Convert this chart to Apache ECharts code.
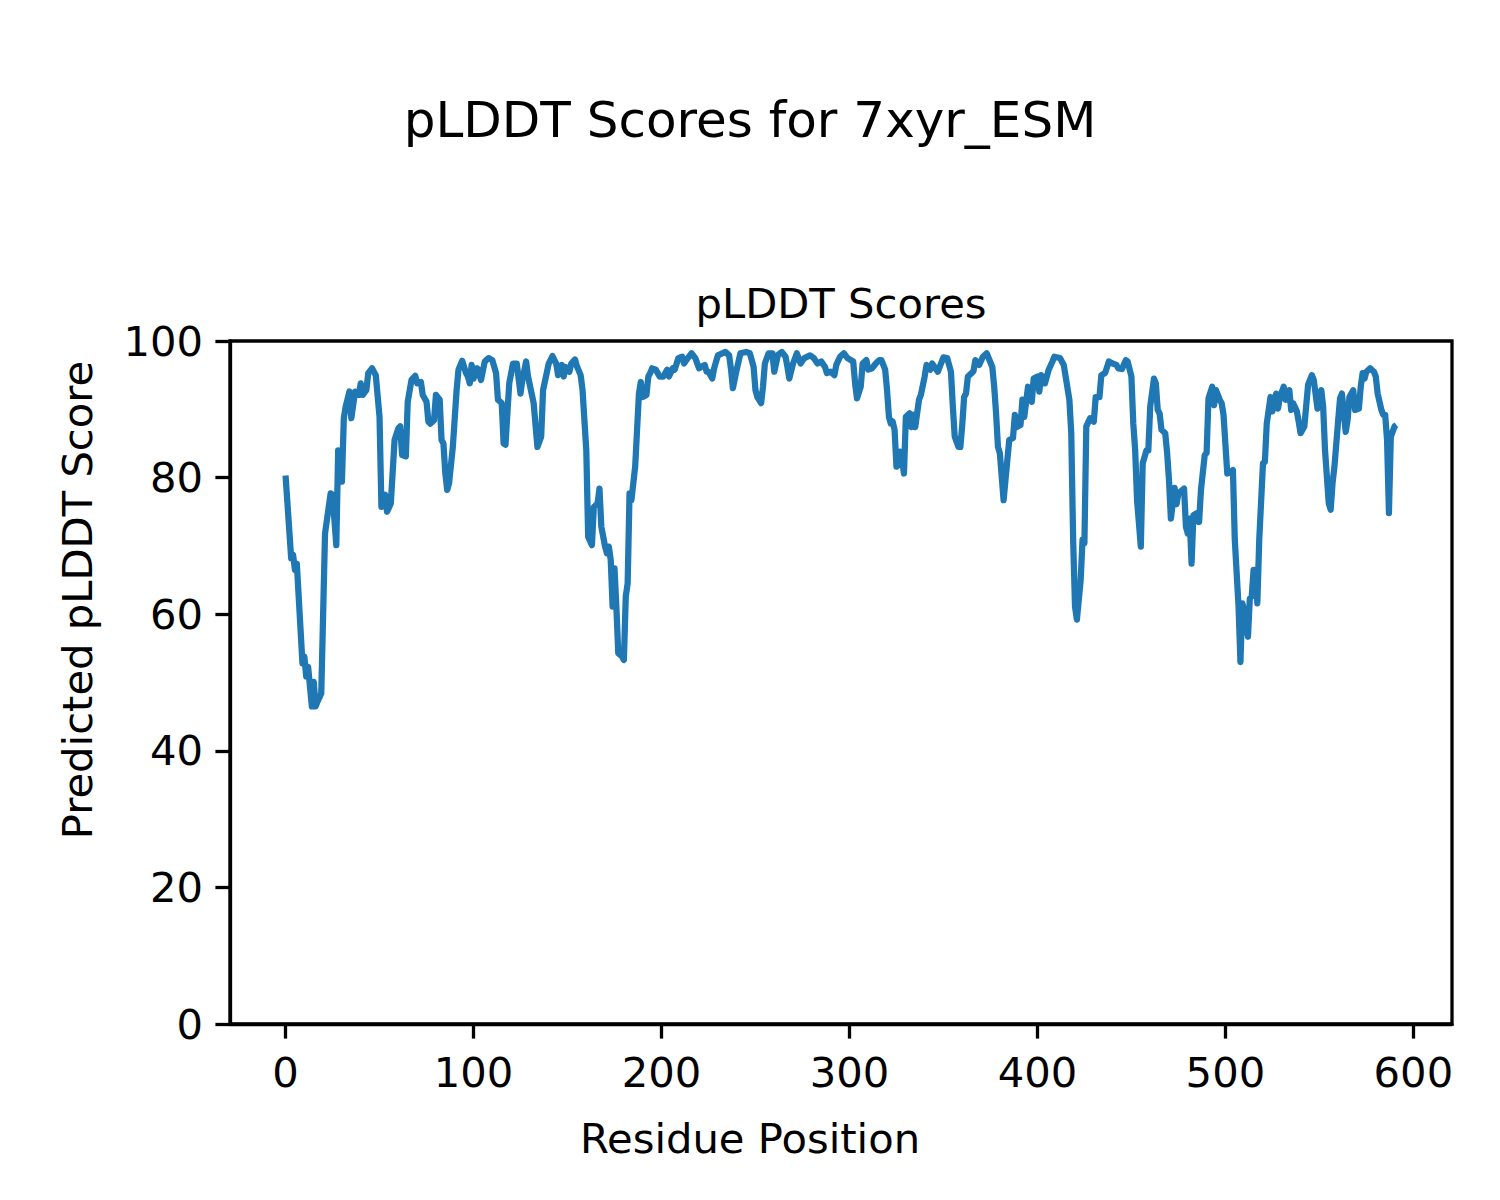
<!DOCTYPE html>
<html>
<head>
<meta charset="utf-8">
<script src="https://cdn.jsdelivr.net/npm/echarts@6/dist/echarts.min.js"></script>
<style>
html,body{margin:0;padding:0;background:#fff;}
#chart{width:1500px;height:1200px;}
</style>
</head>
<body>
<div id="chart"></div>
<script>
// Residue positions (x)
const residues = [
0,3,4,5,6,9,10,11,12,14,15,16,17,19,21,24,25,27,28,30,31,32,34,35,37,39,40,41,43,44,46,48,50,51,53,54,56,58,60,61,62,64,65,67,69,70,72,73,75,76,77,79,80,82,83,84,85,86,87,89,91,92,94,96,97,98,99,100,102,104,106,108,110,112,113,115,116,117,119,121,123,125,126,128,129,132,134,136,137,140,142,144,145,147,148,149,151,152,154,155,157,158,160,161,163,164,166,167,168,170,171,172,173,174,175,176,177,179,180,181,182,183,184,186,188,189,190,192,193,194,195,197,199,201,203,204,206,207,209,211,212,214,216,218,220,221,223,224,225,227,228,230,234,236,237,238,240,242,245,247,249,250,251,253,254,255,257,259,260,262,264,266,267,268,270,272,274,276,279,281,283,285,287,288,290,292,293,295,297,299,302,303,304,306,307,309,310,312,314,315,316,317,319,320,321,322,323,324,325,326,327,328,329,330,332,333,334,335,337,338,340,341,343,344,347,348,350,352,354,355,356,358,359,360,361,362,363,365,366,367,369,371,373,376,377,378,379,380,382,384,385,387,388,389,391,392,393,395,396,397,398,400,401,402,404,406,408,409,412,414,415,417,418,419,420,421,423,424,425,426,428,430,431,433,434,436,438,440,442,443,445,447,448,450,451,452,453,455,456,458,459,460,462,463,464,465,466,468,469,470,471,473,474,475,478,479,480,481,482,483,485,486,487,489,490,491,493,494,495,497,498,499,501,503,504,505,507,508,509,510,512,513,514,515,516,517,518,520,521,522,524,525,527,528,529,531,532,534,535,536,538,539,540,541,542,544,546,547,549,550,551,552,553,555,556,557,558,560,561,562,563,564,565,566,568,569,571,572,573,574,575,577,579,580,581,583,584,585,586,587,588,590,591
];
// Predicted pLDDT score at each residue position above
const plddt = [
80.3,68.2,68.7,66.5,67.4,52.8,53.8,50.9,52.3,46.5,50.1,46.5,47.2,48.4,71.8,77.7,77.5,70.1,84.0,79.4,88.7,90.4,92.6,88.7,92.6,92.1,93.8,92.1,92.8,95.3,96.0,95.0,88.9,75.7,77.5,75.0,76.2,85.5,87.2,87.5,83.3,83.1,91.1,94.3,94.9,93.8,94.0,92.1,91.1,88.2,87.9,88.4,92.1,91.4,85.5,85.0,80.6,78.2,79.2,84.5,92.8,95.8,97.1,95.3,94.8,93.8,96.5,94.5,96.0,94.3,97.0,97.5,97.2,95.3,91.4,90.9,85.0,84.8,93.8,96.7,96.7,92.3,94.3,97.0,94.8,90.9,84.5,86.0,92.8,96.7,97.8,96.7,95.0,96.5,94.8,96.2,95.5,96.7,97.3,96.3,95.0,92.8,84.0,71.3,70.1,75.7,76.2,78.4,72.8,69.9,68.9,69.9,67.9,61.1,66.7,61.1,54.3,53.8,53.3,62.6,64.5,77.7,76.7,81.6,92.3,94.0,91.8,92.1,94.8,95.3,96.0,95.8,94.8,94.8,95.8,94.8,96.0,95.8,97.5,97.7,96.7,97.5,98.2,97.5,96.0,96.2,96.5,95.5,95.5,94.5,96.0,97.9,98.4,97.9,95.8,93.1,95.8,98.2,98.4,98.2,96.2,92.8,91.8,90.9,93.3,96.7,98.2,98.2,95.5,98.0,98.4,97.7,96.2,94.5,96.7,98.2,96.7,97.5,97.9,97.5,96.7,97.0,96.2,95.3,95.5,95.0,96.5,97.7,98.2,97.5,97.0,93.8,91.6,93.3,96.7,97.2,95.8,96.0,96.7,97.0,97.2,97.2,95.8,92.8,88.9,87.9,88.2,87.0,81.6,81.8,83.8,82.6,80.6,88.9,89.4,87.4,89.2,87.4,91.4,92.1,94.8,96.5,95.8,96.7,95.5,96.2,97.6,97.5,95.5,90.4,86.0,84.5,84.5,87.7,91.8,92.3,94.8,95.3,95.6,97.2,96.5,97.7,98.2,96.2,93.3,89.4,84.5,83.6,76.7,82.6,85.5,85.8,89.2,87.4,87.7,91.4,88.9,93.3,91.8,91.1,94.5,94.8,92.6,95.0,93.8,95.8,97.0,97.7,97.5,96.5,94.8,91.4,86.5,70.9,61.1,59.2,65.0,70.9,70.4,87.5,88.7,88.2,91.8,91.8,95.0,95.3,97.0,96.7,96.5,96.0,95.9,97.2,97.0,94.8,87.9,84.0,76.7,69.9,82.1,84.0,84.0,90.4,94.5,93.8,89.9,89.4,87.0,86.5,83.6,79.6,74.0,78.5,76.1,77.7,78.4,72.8,71.8,74.0,67.4,74.5,74.8,73.5,78.2,83.3,83.6,91.6,93.3,90.6,92.8,91.4,90.9,89.2,80.6,80.9,81.1,70.9,61.1,53.0,61.6,60.6,56.7,62.3,62.6,66.5,66.5,61.6,70.9,82.1,82.3,87.9,91.8,89.7,92.3,90.1,91.8,93.3,91.4,92.8,89.9,90.9,89.7,88.2,86.5,87.0,87.5,93.6,95.0,94.3,90.1,92.1,92.8,90.4,84.0,76.2,75.3,79.2,81.6,88.4,91.6,92.3,89.4,86.7,88.4,91.8,92.8,89.9,90.1,93.3,95.3,94.5,95.5,96.0,95.5,94.8,92.3,89.9,89.2,89.2,85.5,74.8,86.0,87.5,87.7
];
const xTicks = [0, 100, 200, 300, 400, 500, 600];
const yTicks = [0, 20, 40, 60, 80, 100];

const FONT = 'DejaVu Sans';
const seriesData = residues.map((r, i) => [r, plddt[i]]);

const chart = echarts.init(document.getElementById('chart'), null, {renderer: 'svg', width: 1500, height: 1200});
chart.setOption({
  animation: false,
  backgroundColor: '#ffffff',
  grid: {
    left: 230, right: 48, top: 341, bottom: 176,
    show: true, borderColor: '#000', borderWidth: 3.3, backgroundColor: 'transparent'
  },
  xAxis: {
    type: 'value',
    min: -29.55, max: 620.55,
    splitLine: {show: false},
    axisLine: {show: true, onZero: false, lineStyle: {color: '#000', width: 3.3}},
    axisTick: {show: true, inside: false, length: 14.6, lineStyle: {color: '#000', width: 3.3}, customValues: xTicks},
    axisLabel: {show: true, margin: 27, color: '#000', fontSize: 41.7, fontFamily: FONT, customValues: xTicks, formatter: v => String(v)}
  },
  yAxis: {
    type: 'value',
    min: yTicks[0], max: yTicks[yTicks.length - 1], interval: 20,
    splitLine: {show: false},
    axisLine: {show: true, onZero: false, lineStyle: {color: '#000', width: 3.3}},
    axisTick: {show: true, inside: false, length: 14.6, lineStyle: {color: '#000', width: 3.3}},
    axisLabel: {show: true, margin: 27, color: '#000', fontSize: 41.7, fontFamily: FONT}
  },
  series: [{
    type: 'line',
    data: seriesData,
    showSymbol: false,
    symbol: 'none',
    lineStyle: {color: '#1f77b4', width: 6.25, join: 'round', cap: 'butt'},
    z: 3
  }],
  graphic: [
    {type: 'text', x: 750, y: 120, style: {text: 'pLDDT Scores for 7xyr_ESM', fill: '#000', font: '50px "DejaVu Sans"', textAlign: 'center', textVerticalAlign: 'middle'}},
    {type: 'text', x: 841, y: 303, style: {text: 'pLDDT Scores', fill: '#000', font: '41.7px "DejaVu Sans"', textAlign: 'center', textVerticalAlign: 'middle'}},
    {type: 'text', x: 750, y: 1138, style: {text: 'Residue Position', fill: '#000', font: '41.7px "DejaVu Sans"', textAlign: 'center', textVerticalAlign: 'middle'}},
    {type: 'text', x: 77, y: 600, rotation: Math.PI / 2, style: {text: 'Predicted pLDDT Score', fill: '#000', font: '41.7px "DejaVu Sans"', textAlign: 'center', textVerticalAlign: 'middle'}}
  ]
});
</script>
</body>
</html>
